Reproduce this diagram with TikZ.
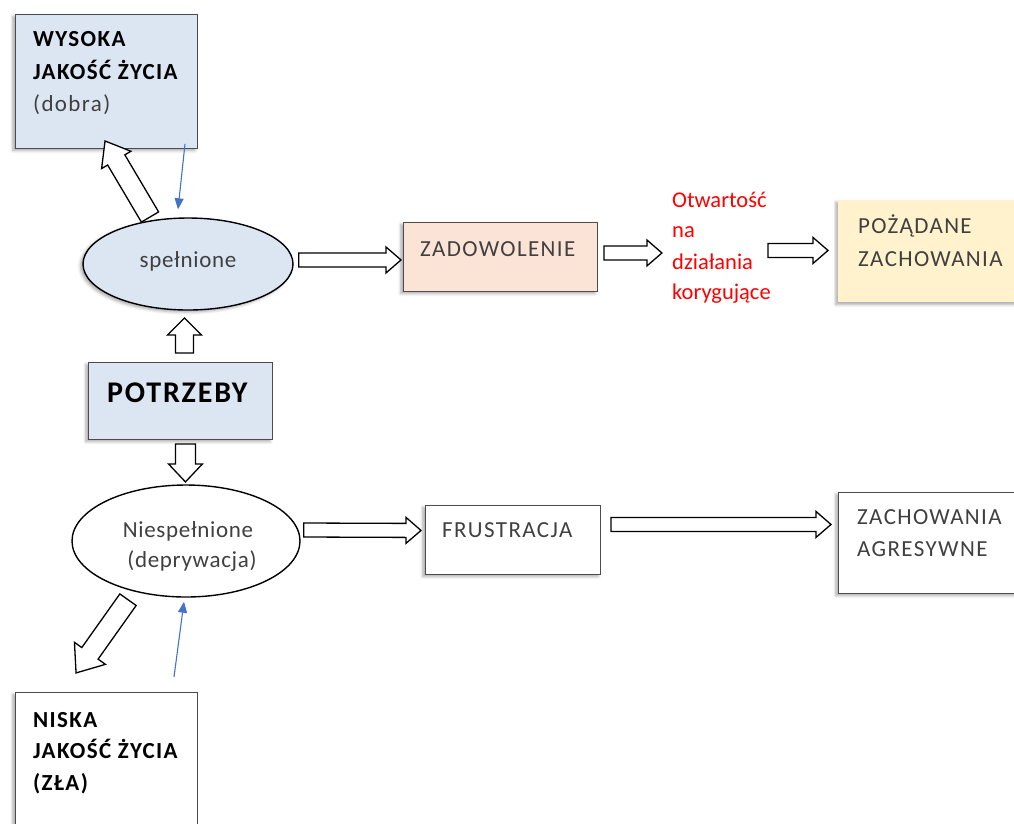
\documentclass[tikz,border=0pt]{standalone}
\usepackage{fontspec}
\setmainfont{Carlito}
\newfontfamily\widecarlito{Carlito}[LetterSpace=6]
\newfontfamily\midcarlito{Carlito}[LetterSpace=3]
\usetikzlibrary{calc,shapes.geometric,arrows.meta,shadows.blur}
\definecolor{paleblue}{HTML}{DCE6F2}
\definecolor{palepeach}{HTML}{FBE3D6}
\definecolor{paleyellow}{HTML}{FFF2CC}
\definecolor{linkblue}{HTML}{4472C4}
\definecolor{textgray}{HTML}{404040}
\tikzset{
  softshadow/.style={blur shadow={shadow xshift=-2.5pt, shadow yshift=-2pt,
      shadow blur radius=3pt, shadow opacity=35}},
  panel/.style={draw=black!70, line width=0.9pt, anchor=north west, inner sep=0pt, softshadow},
  oval/.style={ellipse, draw=black, line width=1.4pt, inner sep=0pt},
  lbl/.style={font=\widecarlito\fontsize{23}{28}\selectfont, text=textgray, inner sep=0pt, anchor=base west},
  ovallbl/.style={font=\midcarlito\fontsize{23}{28}\selectfont, text=textgray, inner sep=0pt, anchor=base},
  blbl/.style={font=\widecarlito\fontsize{23}{28}\selectfont\bfseries, text=black, inner sep=0pt, anchor=base west},
  redlbl/.style={font=\fontsize{22.5}{28}\selectfont, text=red, inner sep=0pt, anchor=base west},
  fat/.style={draw=black, line width=1.3pt, fill=white, line join=miter},
  bluelink/.style={draw=linkblue, line width=1.1pt, -{Triangle[length=11pt,width=9pt]}},
}
% hollow block arrow: start, tip, half shaft width, half head width, head length
\newcommand\fatarrow[5]{%
  \draw[fat] let \p1=#1, \p2=#2,
    \n1={atan2(\y2-\y1,\x2-\x1)}, \n2={veclen(\x2-\x1,\y2-\y1)} in
    {[shift={(\p1)}, rotate=\n1]
      (0pt,#3pt) -- (\n2*1pt-#5pt,#3pt) -- (\n2*1pt-#5pt,#4pt) -- (\n2*1pt,0pt)
      -- (\n2*1pt-#5pt,-#4pt) -- (\n2*1pt-#5pt,-#3pt) -- (0pt,-#3pt) -- cycle};}
\begin{document}
\begin{tikzpicture}[x=1pt,y=-1pt]
\useasboundingbox (0,0) rectangle (1014,823);

% upper branch
\node[panel, fill=paleblue, minimum width=182pt, minimum height=134pt] (wys) at (15,14) {};
\node[blbl] (wys1) at (33,46) {WYSOKA};
\node[blbl] (wys2) at (33,79) {JAKOŚĆ ŻYCIA};
\node[lbl] (wys3) at (33,111) {(dobra)};

\node[oval, fill=paleblue, minimum width=210pt, minimum height=92pt, softshadow] (spel) at (188,264) {};
\node[ovallbl] (speltxt) at (188,267) {spełnione};

\node[panel, fill=palepeach, minimum width=194pt, minimum height=69pt] (zad) at (403,222) {};
\node[lbl] (zadtxt) at (420,256) {ZADOWOLENIE};

\node[redlbl] (ot1) at (672,207) {Otwartość};
\node[redlbl] (ot2) at (672,237) {na};
\node[redlbl] (ot3) at (672,269) {działania};
\node[redlbl] (ot4) at (672,299) {korygujące};

\node[panel, draw=none, fill=paleyellow, minimum width=190pt, minimum height=102pt] (poz) at (838,200) {};
\node[lbl] (poz1) at (858,233) {POŻĄDANE};
\node[lbl] (poz2) at (858,266) {ZACHOWANIA};

% centre
\node[panel, fill=paleblue, minimum width=184pt, minimum height=77pt] (pot) at (88,362) {};
\node[blbl, font=\widecarlito\fontsize{30}{34}\selectfont\bfseries] (pottxt) at (107,402) {POTRZEBY};

% lower branch
\node[oval, fill=white, minimum width=228pt, minimum height=112pt] (nie) at (186,541) {};
\node[ovallbl] (nie1) at (188,537) {Niespełnione};
\node[ovallbl] (nie2) at (192,567) {(deprywacja)};

\node[panel, fill=white, minimum width=175pt, minimum height=69pt] (fru) at (425,505) {};
\node[lbl] (frutxt) at (442,537) {FRUSTRACJA};

\node[panel, fill=white, minimum width=190pt, minimum height=101pt] (agr) at (838,492) {};
\node[lbl] (agr1) at (857,524) {ZACHOWANIA};
\node[lbl] (agr2) at (857,556) {AGRESYWNE};

\node[panel, fill=white, minimum width=182pt, minimum height=150pt] (nis) at (15,692) {};
\node[blbl] (nis1) at (33,727) {NISKA};
\node[blbl] (nis2) at (33,758) {JAKOŚĆ ŻYCIA};
\node[blbl] (nis3) at (33,790) {(ZŁA)};

% block arrows
\fatarrow{($(spel.center)+(-38,-47)$)}{($(wys.south west)+(90,-8)$)}{10}{17}{22}
\fatarrow{($(spel.east)+(5,-4)$)}{($(zad.west)+(-2,3)$)}{7}{13}{15}
\fatarrow{($(zad.east)+(6,-4)$)}{($(zad.east)+(64,-4)$)}{7}{13}{15}
\fatarrow{($(poz.west)+(-70,-1)$)}{($(poz.west)+(-10,-1)$)}{7}{13}{15}
\fatarrow{($(pot.north)+(4,-9)$)}{($(pot.north)+(4,-44)$)}{9}{17}{17}
\fatarrow{($(pot.south)+(5,4)$)}{($(pot.south)+(5,42)$)}{10}{17}{18}
\fatarrow{($(nie.east)+(3,-11)$)}{($(fru.west)+(-4,-9.5)$)}{7}{13}{15}
\fatarrow{($(fru.east)+(10,-15.5)$)}{($(agr.west)+(-7,-18.5)$)}{7}{13}{15}
\fatarrow{($(nie.south)+(-58,2)$)}{($(nis.north west)+(61,-19)$)}{10}{19}{24}

% feedback links
\draw[bluelink] ($(wys.south west)+(170,-5)$) -- ($(spel.north)+(-10,-8)$);
\draw[bluelink] ($(nis.north west)+(159,-15)$) -- ($(nie.south)+(-2,4)$);
\end{tikzpicture}
\end{document}
